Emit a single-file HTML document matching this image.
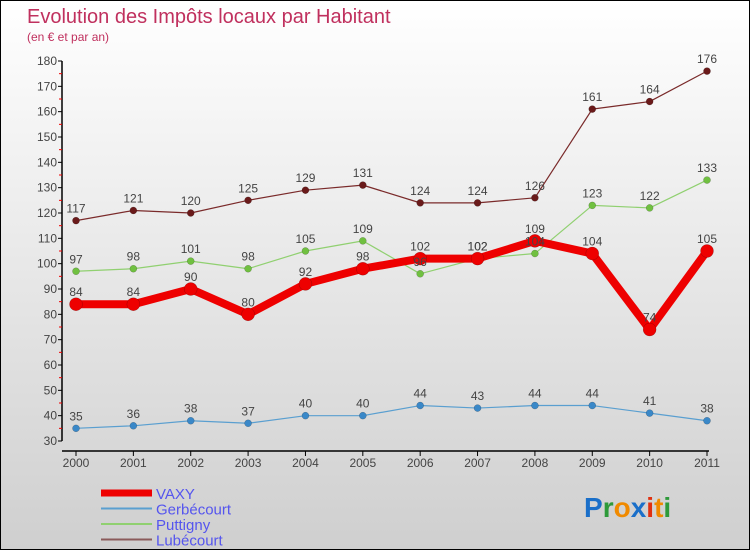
<!DOCTYPE html>
<html><head><meta charset="utf-8"><style>
body{margin:0;}
#c{position:relative;width:750px;height:550px;box-sizing:border-box;border:1px solid #000;background:linear-gradient(#ffffff,#cfcfcf);font-family:"Liberation Sans",sans-serif;overflow:hidden}
svg text{font-family:"Liberation Sans",sans-serif}
</style></head><body>
<div id="c">
<svg id="s" width="750" height="550">
<text x="26" y="22" font-size="20" fill="#c0305e">Evolution des Impôts locaux par Habitant</text>
<text x="26" y="40" font-size="12" fill="#c0305e">(en € et par an)</text>
<g id="axes"></g><g id="series"></g><g id="legend"></g>
<text x="583" y="516" font-size="28" font-weight="bold"><tspan fill="#1a6fc9">P</tspan><tspan fill="#2e9a3a">r</tspan><tspan fill="#f08a00">o</tspan><tspan fill="#1a6fc9">x</tspan><tspan fill="#e03010">i</tspan><tspan fill="#f08a00">t</tspan><tspan fill="#2e9a3a">i</tspan></text>
</svg></div>
<script>
const years=["2000","2001","2002","2003","2004","2005","2006","2007","2008","2009","2010","2011"];
const yTicks=[30,40,50,60,70,80,90,100,110,120,130,140,150,160,170,180];
const vaxy=[84,84,90,80,92,98,102,102,109,104,74,105];
const gerbecourt=[35,36,38,37,40,40,44,43,44,44,41,38];
const puttigny=[97,98,101,98,105,109,96,102,104,123,122,133];
const lubecourt=[117,121,120,125,129,131,124,124,126,161,164,176];
const NS="http://www.w3.org/2000/svg";
const X=i=>75+i*(706-75)/11;
const Y=v=>440-(v-30)*380/150;
function mk(p,t,a){const e=document.createElementNS(NS,t);for(const k in a)e.setAttribute(k,a[k]);p.appendChild(e);return e;}
const ax=document.getElementById('axes');
let e=mk(ax,'line',{x1:61,y1:Y(180),x2:61,y2:Y(30),stroke:'#000','stroke-width':1.5});


e=mk(ax,'line',{x1:61,y1:450,x2:708,y2:450,stroke:'#000','stroke-width':1.5});


yTicks.forEach((v,i)=>{
 mk(ax,'line',{x1:57,x2:61,y1:Y(v),y2:Y(v),stroke:'#000'});
 if(i<yTicks.length-1)mk(ax,'line',{x1:58,x2:61,y1:Y(v+5),y2:Y(v+5),stroke:'#e00'});
 const t=mk(ax,'text',{x:56,y:Y(v)+4,'font-size':12,fill:'#444','text-anchor':'end'});t.textContent=v;
 
 
});
years.forEach((y,i)=>{
 mk(ax,'line',{x1:X(i),x2:X(i),y1:450,y2:455,stroke:'#000'});
 const t=mk(ax,'text',{x:X(i),y:466,'font-size':12,fill:'#444','text-anchor':'middle'});t.textContent=y;
 
 
});
const series=[
 {name:'lubecourt',d:lubecourt,c:'#7a2a2a',dot:'#6a1a1a',w:1.2,r:3.5},
 {name:'puttigny',d:puttigny,c:'#90d070',dot:'#70c040',w:1.2,r:3.5},
 {name:'gerbecourt',d:gerbecourt,c:'#5a9fd0',dot:'#3a88c8',w:1.2,r:3.5},
 {name:'vaxy',d:vaxy,c:'#ee0000',dot:'#ee0000',w:8,r:6.5}];
const sg=document.getElementById('series');
series.forEach(s=>{
 const g=mk(sg,'g',{});
 
 
 const p=mk(g,'polyline',{points:s.d.map((v,i)=>X(i)+','+Y(v)).join(' '),fill:'none',stroke:s.c,'stroke-width':s.w,'stroke-linejoin':'round'});
 
 
 s.d.forEach((v,i)=>{
  const c=mk(g,'circle',{cx:X(i),cy:Y(v),r:s.r,fill:s.dot,stroke:'rgba(0,0,0,0.3)','stroke-width':0.5});
  
  
 });
});
series.forEach(s=>{s.d.forEach((v,i)=>{
 const t=mk(sg,'text',{x:X(i),y:Y(v)-8,'font-size':12,fill:'#444','text-anchor':'middle'});t.textContent=v;
 
 
});});
const lg=document.getElementById('legend');
const lgItems=[['VAXY','#ee0000',7],['Gerbécourt','#5a9fd0',2],['Puttigny','#90d070',2],['Lubécourt','#8a5a5a',2]];
lgItems.forEach((it,i)=>{
 const y=492+i*15.5;
 const g=mk(lg,'g',{});
 
 
 mk(g,'line',{x1:100,x2:151,y1:y,y2:y,stroke:it[1],'stroke-width':it[2]});
 const t=mk(g,'text',{x:155,y:y+6,'font-size':15,fill:'#5555ee'});t.textContent=it[0];
});
</script></body></html>
